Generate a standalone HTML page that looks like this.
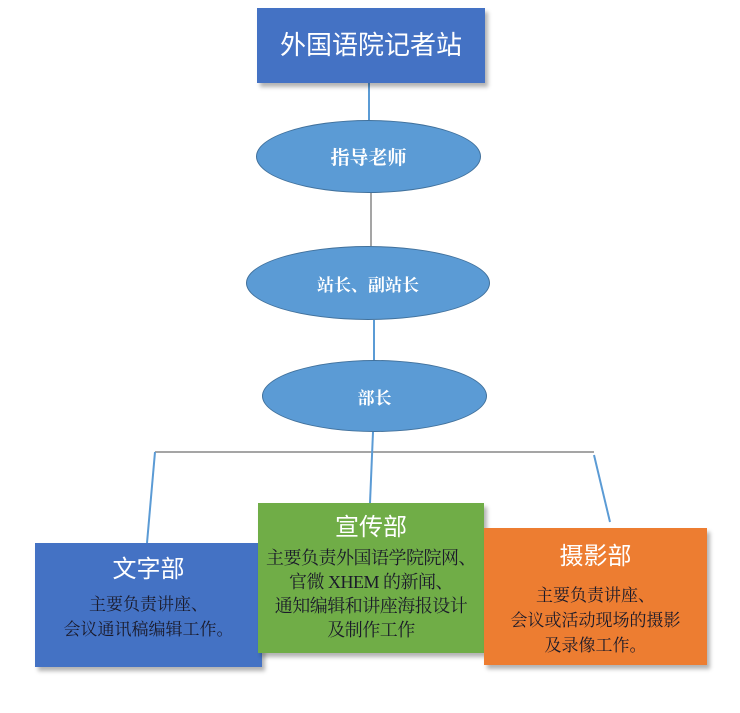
<!DOCTYPE html>
<html><head><meta charset="utf-8"><style>
body{margin:0;width:740px;height:713px;background:#fff;position:relative;overflow:hidden;font-family:"Liberation Sans","Noto Sans CJK SC",sans-serif}
.b{position:absolute;box-shadow:3px 4px 4px rgba(0,0,0,.3);text-align:center;box-sizing:border-box}
.t{color:#fff;font-size:24px;font-family:"Liberation Sans","Noto Sans CJK SC",sans-serif}
.d{color:#1a1a2a;font-size:17px;line-height:25px;font-family:"Liberation Serif","Noto Serif CJK SC",serif}
.e{position:absolute;background:#5b9bd5;border:1px solid #41719c;border-radius:50%;color:#fff;font-weight:bold;display:flex;align-items:center;justify-content:center;box-sizing:border-box;font-family:"Liberation Serif","Noto Serif CJK SC",serif}
</style></head><body>
<svg width="740" height="713" style="position:absolute;left:0;top:0">
<line x1="369" y1="83" x2="369" y2="120" stroke="#5b9bd5" stroke-width="2"/>
<line x1="371" y1="193" x2="371" y2="246" stroke="#a5a5a5" stroke-width="2"/>
<line x1="374" y1="320" x2="374" y2="360" stroke="#5b9bd5" stroke-width="2"/>
<line x1="155" y1="452" x2="594" y2="452" stroke="#a5a5a5" stroke-width="2"/>
<line x1="155" y1="452" x2="147" y2="543" stroke="#5b9bd5" stroke-width="2"/>
<line x1="373" y1="432" x2="370" y2="503" stroke="#5b9bd5" stroke-width="2"/>
<line x1="594" y1="455" x2="610" y2="522" stroke="#5b9bd5" stroke-width="2"/>
</svg>
<div class="b t" style="left:257px;top:8px;width:228px;height:75px;background:#4472c4;line-height:75px;font-size:26px">外国语院记者站</div>
<div class="e" style="left:256px;top:120px;width:225px;height:73px;font-size:19px">指导老师</div>
<div class="e" style="left:246px;top:246px;width:244px;height:74px;font-size:17px">站长、副站长</div>
<div class="e" style="left:262px;top:360px;width:225px;height:72px;font-size:17px">部长</div>
<div class="b" style="left:35px;top:543px;width:227px;height:124px;background:#4472c4">
<div class="t" style="margin-top:11px;line-height:32px">文字部</div>
<div class="d" style="margin-top:6px">主要负责讲座、<br>会议通讯稿编辑工作。</div></div>
<div class="b" style="left:258px;top:503px;width:226px;height:150px;background:#70ad47">
<div class="t" style="margin-top:7px;line-height:36px">宣传部</div>
<div class="d" style="margin-top:0px;white-space:nowrap;margin-left:-6px;margin-right:-6px;font-size:18px;line-height:24px;letter-spacing:-0.5px">主要负责外国语学院院网、<br>官微 XHEM 的新闻、<br>通知编辑和讲座海报设计<br>及制作工作</div></div>
<div class="b" style="left:484px;top:528px;width:223px;height:137px;background:#ed7d31">
<div class="t" style="margin-top:12px;line-height:34px">摄影部</div>
<div class="d" style="margin-top:9px;white-space:nowrap;margin-left:-4px;margin-right:-4px">主要负责讲座、<br>会议或活动现场的摄影<br>及录像工作。</div></div>
</body></html>
